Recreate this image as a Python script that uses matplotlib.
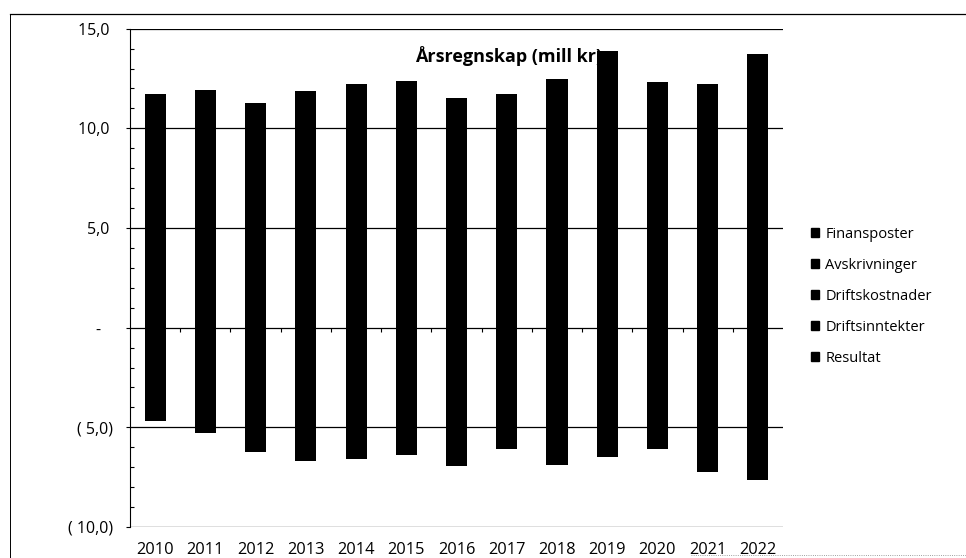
import numpy as np
import matplotlib.pyplot as plt
from matplotlib.lines import Line2D
from matplotlib.patches import Patch
from matplotlib.ticker import FuncFormatter, MultipleLocator

plt.rcParams['font.family'] = ['Open Sans', 'DejaVu Sans']

years = ['2010', '2011', '2012', '2013', '2014', '2015', '2016',
         '2017', '2018', '2019', '2020', '2021', '2022']

# mill kr
driftsinntekter = [11.2, 11.5, 11.05, 11.55, 11.8, 11.9, 11.2, 11.3, 11.9, 13.0, 11.8, 11.8, 12.95]
resultat = [0.5, 0.4, 0.2, 0.3, 0.4, 0.5, 0.3, 0.4, 0.6, 0.9, 0.5, 0.4, 0.8]
driftskostnader = [-4.0, -4.6, -5.45, -5.8, -5.8, -5.5, -5.95, -5.2, -5.8, -5.5, -5.1, -6.05, -6.45]
avskrivninger = [-0.5, -0.5, -0.6, -0.6, -0.6, -0.7, -0.7, -0.7, -0.8, -0.8, -0.8, -0.9, -0.9]
finansposter = [-0.2, -0.2, -0.2, -0.3, -0.2, -0.2, -0.3, -0.2, -0.3, -0.2, -0.2, -0.3, -0.3]

series = [('Driftsinntekter', driftsinntekter), ('Driftskostnader', driftskostnader),
          ('Avskrivninger', avskrivninger), ('Finansposter', finansposter),
          ('Resultat', resultat)]
legend_order = ['Finansposter', 'Avskrivninger', 'Driftskostnader', 'Driftsinntekter', 'Resultat']

fig = plt.figure(figsize=(9.66, 5.58), dpi=100)
ax = fig.add_axes([0.1346, 0.0556, 0.676, 0.893])

x = np.arange(len(years))
pos_base = np.zeros(len(years))
neg_base = np.zeros(len(years))
for name, vals in series:
    v = np.array(vals)
    base = np.where(v >= 0, pos_base, neg_base)
    ax.bar(x, v, 0.42, bottom=base, color='black', zorder=3, label=name)
    pos_base += np.clip(v, 0, None)
    neg_base += np.clip(v, None, 0)

ax.set_xlim(-0.5, len(years) - 0.5)
ax.set_ylim(-10, 15)
ax.set_yticks([-10, -5, 0, 5, 10, 15])
ax.yaxis.set_minor_locator(MultipleLocator(1))


def fmt(v, pos):
    if abs(v) < 1e-9:
        return '-   '
    s = ('%.1f' % abs(v)).replace('.', ',')
    if v < 0:
        return '( ' + s + ')'
    return s + ' '


ax.yaxis.set_major_formatter(FuncFormatter(fmt))
ax.tick_params(axis='y', which='major', direction='out', length=3, width=0.8,
               labelsize=11.5, pad=9)
ax.tick_params(axis='y', which='minor', direction='in', length=3, width=0.8)

ax.set_xticks(x)
ax.set_xticklabels(years)
ax.tick_params(axis='x', length=0, labelsize=11.8, pad=11)

for s in ['top', 'right', 'bottom']:
    ax.spines[s].set_visible(False)
ax.spines['left'].set_linewidth(0.8)
ax.spines['left'].set_linestyle((0, (6, 1)))

ax.set_axisbelow(True)
ax.grid(axis='y', which='major', color='black', linewidth=0.9)

# category tick marks along the zero line
sec = ax.secondary_xaxis(0.4)
sec.set_xticks(x[:-1] + 0.5)
sec.set_xticklabels([])
sec.tick_params(direction='out', length=3, width=0.8)
sec.spines['bottom'].set_visible(False)

# title sits behind the bars, as in the original
ax.text(0.436, 0.934, 'Årsregnskap (mill kr)', transform=ax.transAxes,
        fontsize=13, fontweight='bold', ha='left', va='baseline', zorder=1)

handles = {name: Patch(facecolor='black', edgecolor='black') for name, _ in series}
fig.legend([handles[n] for n in legend_order], legend_order,
           loc='upper left', bbox_to_anchor=(0.84, 0.594), frameon=False,
           fontsize=10.5, handlelength=0.55, handleheight=0.55, handletextpad=0.4,
           labelspacing=1.1, borderpad=0, borderaxespad=0)

# outer chart frame from the scan
fig.add_artist(Line2D([0.0104, 0.0104], [0.0, 0.975], color='black', lw=0.7,
                      transform=fig.transFigure))
fig.add_artist(Line2D([0.0104, 1.0], [0.975, 0.975], color='black', lw=0.9,
                      transform=fig.transFigure))
fig.add_artist(Line2D([0.715, 1.0], [0.006, 0.006], color='0.5', lw=0.6,
                      linestyle=':', transform=fig.transFigure))

fig.savefig('out.png', dpi=100)
